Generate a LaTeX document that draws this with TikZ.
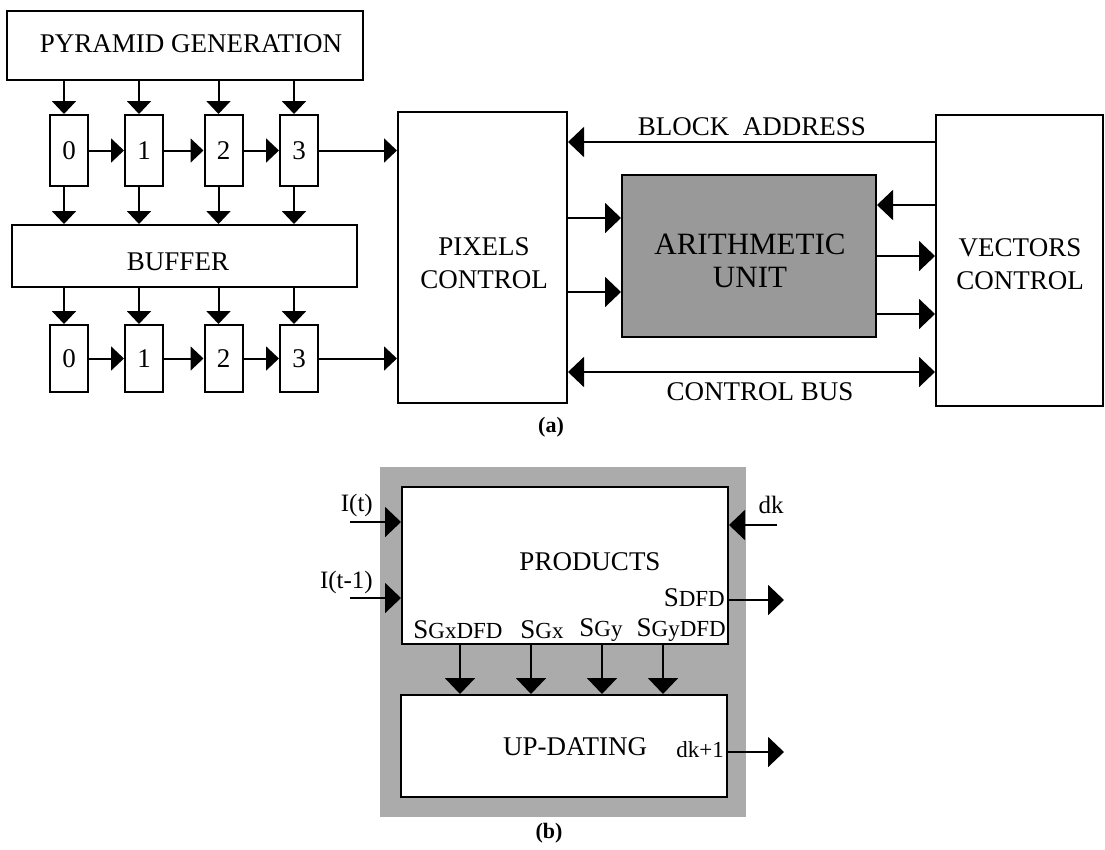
\documentclass[tikz,border=0pt]{standalone}
\usepackage{fontspec}
\setmainfont{Liberation Serif}
\usetikzlibrary{arrows.meta,calc}
\begin{document}
\begin{tikzpicture}[x=1pt,y=-1pt,
  box/.style={draw, line width=2pt, inner sep=0pt, fill=white},
  arr/.style={line width=2pt, -{Triangle[length=13pt,width=24pt]}},
  arrb/.style={line width=2pt, -{Triangle[length=16pt,width=30pt]}},
  darrb/.style={line width=2pt, {Triangle[length=16pt,width=30pt]}-{Triangle[length=16pt,width=30pt]}},
  lbl/.style={font=\fontsize{27}{31}\selectfont, inner sep=0pt},
  slbl/.style={font=\fontsize{23}{26}\selectfont, inner sep=0pt},
  captext/.style={font=\fontsize{22}{26}\selectfont\bfseries, inner sep=0pt},
]
\useasboundingbox (0,0) rectangle (1105,849);
\newcommand{\Sg}{{\fontsize{27}{27}\selectfont S}}

% ---------------- (a) ----------------
\node[box, minimum width=356pt, minimum height=69pt] (pg) at (185,45.5) {};
\node[lbl] (pgt) at (191,44) {PYRAMID GENERATION};

\foreach \i/\x in {0/69,1/144,2/223.5,3/299}{
  \node[box, minimum width=38pt, minimum height=71pt, font=\fontsize{27}{30}\selectfont] (t\i) at (\x,150.5) {\i};
  \node[box, minimum width=38pt, minimum height=67pt, font=\fontsize{27}{30}\selectfont] (b\i) at (\x,358.5) {\i};
}
\node[box, minimum width=345pt, minimum height=62pt] (buf) at (184.5,256) {};
\node[lbl] (buft) at (178,262) {BUFFER};

\foreach \i in {0,1,2,3}{
  \draw[arr] ([xshift=-5pt]t\i.north |- pg.south) -- ([xshift=-5pt]t\i.north);
  \draw[arr] ([xshift=-5pt]t\i.south) -- ([xshift=-5pt]t\i.south |- buf.north);
  \draw[arr] ([xshift=-5pt]b\i.north |- buf.south) -- ([xshift=-5pt]b\i.north);
}
\foreach \i/\j in {0/1,1/2,2/3}{
  \draw[arr] (t\i.east) -- (t\j.west);
  \draw[arr] (b\i.east) -- (b\j.west);
}

\node[box, minimum width=169pt, minimum height=291pt] (pc) at (482.5,257.5) {};
\node[lbl, align=center] (pct) at (484,263) {PIXELS\\[2pt]CONTROL};

\draw[arr] (t3.east) -- (t3.east -| pc.west);
\draw[arr] (b3.east) -- (b3.east -| pc.west);

\node[draw, line width=2pt, fill=black!40, minimum width=254pt, minimum height=162pt] (au) at (749,256) {};
\node[font=\fontsize{31}{33}\selectfont, align=center, inner sep=0pt] (aut) at (750,261) {ARITHMETIC\\UNIT};

\node[box, minimum width=167pt, minimum height=291pt] (vc) at (1019.5,260.5) {};
\node[lbl, align=center] (vct) at (1020,264) {VECTORS\\[2pt]CONTROL};

\coordinate (ba) at (0,142);
\coordinate (cb) at (0,372);
\draw[arrb] (vc.west |- ba) -- (pc.east |- ba);
\node[lbl] (bat) at (752,127) {BLOCK\ \ ADDRESS};
\draw[darrb] (pc.east |- cb) -- (vc.west |- cb);
\node[lbl] (cbt) at (760,392) {CONTROL BUS};

\coordinate (a1) at ($(au.west)+(0,-38)$);
\coordinate (a2) at ($(au.west)+(0,36)$);
\coordinate (a3) at ($(au.east)+(0,-51)$);
\coordinate (a4) at (au.east);
\coordinate (a5) at ($(au.east)+(0,58)$);
\draw[arrb] (a1 -| pc.east) -- (a1);
\draw[arrb] (a2 -| pc.east) -- (a2);
\draw[arrb] (a3 -| vc.west) -- (a3);
\draw[arrb] (a4) -- (a4 -| vc.west);
\draw[arrb] (a5) -- (a5 -| vc.west);

\node[captext] (capa) at (551,427) {(a)};

% ---------------- (b) ----------------
\node[fill=black!33, minimum width=366pt, minimum height=350pt, inner sep=0pt] (bg) at (563,642) {};
\node[box, minimum width=326pt, minimum height=157pt] (pr) at (565,565.5) {};
\node[box, minimum width=326pt, minimum height=102pt] (up) at (564,746) {};
\node[lbl] (prt) at (590,562) {PRODUCTS};
\node[lbl] (upt) at (575,747) {UP-DATING};

\node[slbl] (l1) at (458,630) {\Sg GxDFD};
\node[slbl] (l2) at (542,630) {\Sg Gx};
\node[slbl] (l3) at (601,630) {\Sg Gy};
\node[slbl, anchor=east] (l4) at (726,630) {\Sg GyDFD};
\node[slbl, anchor=east] (sd) at (725,598) {\Sg DFD};
\node[slbl, anchor=east] (dk1) at (724,750) {dk+1};

\foreach \x in {460,531,602,663}{
  \draw[arrb] (pr.south -| \x,0) -- (up.north -| \x,0);
}

\coordinate (it) at (350,522);
\coordinate (it1) at (350,598);
\coordinate (dkc) at (777,525);
\coordinate (sdo) at (784,600);
\coordinate (dko) at (784,752);
\draw[arrb] (it) -- (it -| pr.west);
\draw[arrb] (it1) -- (it1 -| pr.west);
\draw[arrb] (dkc) -- (dkc -| pr.east);
\draw[arrb] (sdo -| pr.east) -- (sdo);
\draw[arrb] (dko -| up.east) -- (dko);
\node[slbl, font=\fontsize{25}{28}\selectfont, anchor=east] (itt) at (373,505) {I(t)};
\node[slbl, font=\fontsize{25}{28}\selectfont, anchor=east] (it1t) at (373,582) {I(t-1)};
\node[slbl, font=\fontsize{25}{28}\selectfont] (dkt) at (771,505) {dk};

\node[captext] (capb) at (549,833) {(b)};
\end{tikzpicture}
\end{document}
